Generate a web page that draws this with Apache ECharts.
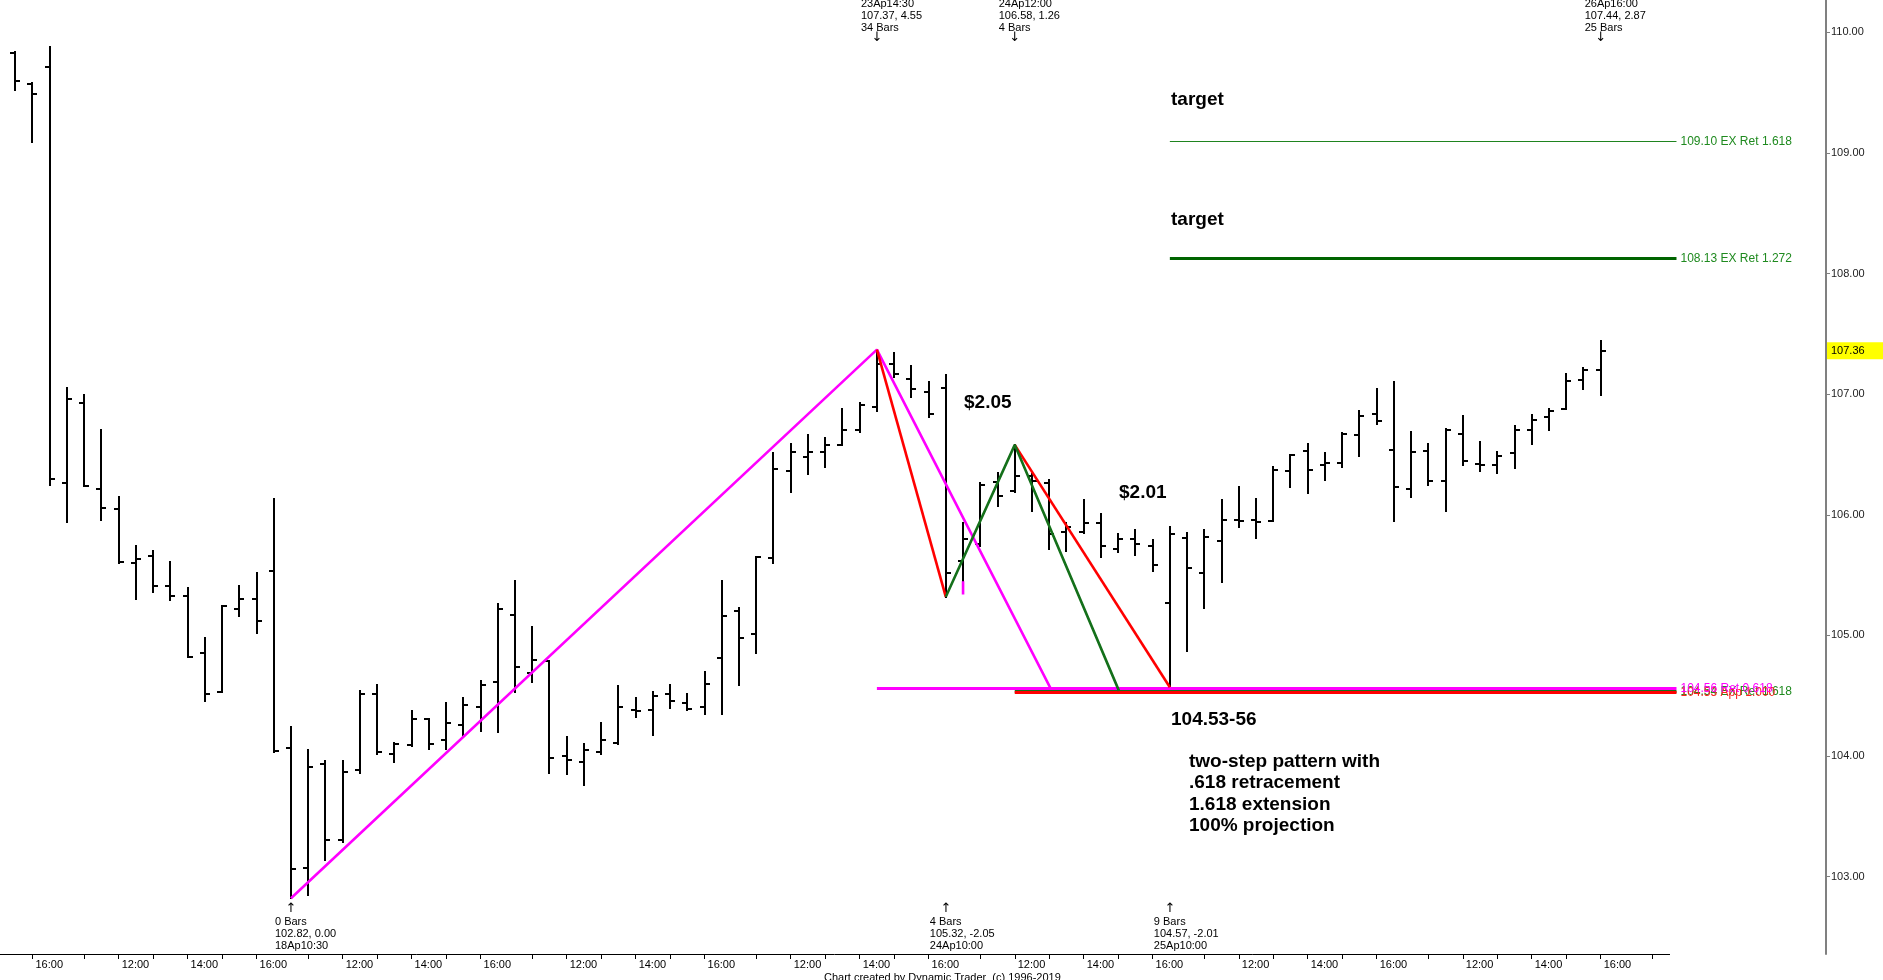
<!DOCTYPE html>
<html>
<head>
<meta charset="utf-8">
<title>Two-step pattern</title>
<script src="https://cdn.jsdelivr.net/npm/echarts@6/dist/echarts.min.js"></script>
<style>
  html, body { margin: 0; padding: 0; background: #fff; }
  #chart { width: 1883px; height: 980px; }
</style>
</head>
<body>
<div id="chart"></div>
<script>
// 30 minute bars, 16Ap15:30 .. 26Ap16:00 (bar index 0..92)
const barOpen = [
  109.83, 109.57, 109.71, 106.26, 106.93, 106.21, 106.05, 105.60, 105.66, 105.41,
  105.33, 104.85, 104.53, 105.22, 105.30, 105.53, 104.07, 103.07, 103.93, 103.30,
  103.88, 104.51, 104.02, 104.09, 104.31, 104.13, 104.26, 104.41, 104.61, 105.17,
  104.69, 104.79, 104.00, 103.95, 104.03, 104.11, 104.38, 104.38, 104.51, 104.44,
  104.41, 104.81, 105.20, 105.01, 105.64, 106.36, 106.48, 106.52, 106.58, 106.70,
  106.89, 107.25, 107.13, 107.02, 107.05, 105.62, 105.76, 106.27, 106.20, 106.32,
  106.26, 105.86, 105.86, 105.93, 105.72, 105.80, 105.74, 105.27, 105.81, 105.52,
  105.78, 105.96, 105.96, 105.95, 106.36, 106.53, 106.41, 106.43, 106.66, 106.84,
  106.54, 106.21, 106.53, 106.28, 106.67, 106.42, 106.41, 106.51, 106.70, 106.81,
  106.88, 107.12, 107.20
];
const barHigh = [
  109.84, 109.58, 109.88, 107.05, 106.99, 106.70, 106.15, 105.74, 105.70, 105.61,
  105.39, 104.98, 105.24, 105.41, 105.52, 106.13, 104.24, 104.05, 103.96, 103.96,
  104.54, 104.59, 104.11, 104.37, 104.31, 104.44, 104.48, 104.62, 105.26, 105.45,
  105.07, 104.79, 104.16, 104.10, 104.27, 104.58, 104.48, 104.53, 104.59, 104.51,
  104.70, 105.45, 105.23, 105.65, 106.51, 106.59, 106.66, 106.64, 106.88, 106.93,
  107.37, 107.34, 107.23, 107.10, 107.16, 105.93, 106.26, 106.35, 106.58, 106.34,
  106.29, 105.93, 106.12, 106.01, 105.84, 105.87, 105.79, 105.90, 105.85, 105.87,
  106.12, 106.23, 106.13, 106.40, 106.50, 106.59, 106.51, 106.68, 106.86, 107.04,
  107.10, 106.69, 106.59, 106.71, 106.82, 106.60, 106.52, 106.74, 106.83, 106.88,
  107.17, 107.22, 107.44
];
const barLow = [
  109.52, 109.09, 106.25, 105.94, 106.24, 105.96, 105.60, 105.30, 105.36, 105.29,
  104.82, 104.46, 104.53, 105.16, 105.02, 104.03, 102.82, 102.85, 103.14, 103.29,
  103.86, 104.02, 103.95, 104.08, 104.06, 104.06, 104.16, 104.21, 104.20, 104.53,
  104.61, 103.86, 103.85, 103.76, 104.02, 104.10, 104.32, 104.17, 104.40, 104.38,
  104.35, 104.35, 104.59, 104.85, 105.60, 106.19, 106.34, 106.40, 106.58, 106.69,
  106.86, 107.14, 106.98, 106.81, 105.32, 105.45, 105.74, 106.07, 106.19, 106.03,
  105.72, 105.70, 105.85, 105.65, 105.69, 105.67, 105.53, 104.57, 104.87, 105.23,
  105.44, 105.90, 105.81, 105.95, 106.23, 106.18, 106.29, 106.40, 106.49, 106.75,
  105.95, 106.15, 106.25, 106.03, 106.41, 106.36, 106.35, 106.39, 106.59, 106.70,
  106.88, 107.04, 106.99
];
const barClose = [
  109.60, 109.49, 106.30, 106.96, 106.24, 106.06, 105.61, 105.63, 105.41, 105.33,
  104.82, 104.51, 105.24, 105.30, 105.12, 104.04, 103.06, 103.91, 103.30, 103.87,
  104.51, 104.03, 104.10, 104.31, 104.10, 104.27, 104.42, 104.59, 105.22, 104.74,
  104.80, 103.98, 103.97, 104.05, 104.13, 104.41, 104.37, 104.50, 104.46, 104.39,
  104.60, 105.16, 104.98, 105.65, 106.38, 106.52, 106.52, 106.58, 106.70, 106.91,
  107.25, 107.17, 107.04, 106.84, 105.52, 105.80, 106.25, 106.16, 106.32, 106.28,
  105.84, 105.90, 105.93, 105.74, 105.80, 105.76, 105.58, 105.84, 105.56, 105.82,
  105.96, 105.95, 105.94, 106.37, 106.50, 106.37, 106.43, 106.67, 106.82, 106.78,
  106.23, 106.52, 106.28, 106.70, 106.45, 106.41, 106.49, 106.70, 106.79, 106.86,
  107.11, 107.20, 107.36
];

// time axis: one blank slot before the first bar, four after the last
const sessionTimes = ['10:00', '10:30', '11:00', '11:30', '12:00', '12:30', '13:00',
  '13:30', '14:00', '14:30', '15:00', '15:30', '16:00'];
const sessionDays = ['17Ap', '18Ap', '22Ap', '23Ap', '24Ap', '25Ap', '26Ap'];
const categories = ['16Ap15:00', '16Ap15:30', '16Ap16:00'];
sessionDays.forEach(d => sessionTimes.forEach(t => categories.push(d + t)));
['10:00', '10:30', '11:00', '11:30'].forEach(t => categories.push('29Ap' + t));
const tickTimes = ['11:00', '12:00', '13:00', '14:00', '15:00', '16:00'];
const labelTimes = ['12:00', '14:00', '16:00'];

// swing pivots
const pivotBars = [16, 50, 54, 58, 67, 92];
const pivotDates = ['18Ap10:30', '23Ap14:30', '24Ap10:00', '24Ap12:00', '25Ap10:00', '26Ap16:00'];
const pivotPrices = ['102.82', '107.37', '105.32', '106.58', '104.57', '107.44'];
const pivotChanges = ['0.00', '4.55', '-2.05', '1.26', '-2.01', '2.87'];
const pivotCounts = [0, 34, 4, 4, 9, 25];
const pivotIsHigh = [false, true, false, true, false, true];

// drawn swings [bar, price]
const pinkSwing = [[16, 102.82], [50, 107.37], [60.08, 104.56]];
const pinkMark = [[55, 105.45], [55, 105.34]];
const redLegOne = [[50, 107.37], [54, 105.32]];
const redLegTwo = [[58, 106.58], [67, 104.57]];
const greenSwing = [[54, 105.32], [58, 106.58], [64.05, 104.54]];

// price levels (drawn in this order, last on top)
const levelPrices = [109.10, 108.13, 104.54, 104.53, 104.56];
const levelStartBars = [67, 67, 58, 58, 50];
const levelLabels = ['109.10 EX Ret 1.618', '108.13 EX Ret 1.272', '104.54 EX Ret 1.618',
  '104.53 App 1.000', '104.56 Ret 0.618'];
const lastPrice = 107.36;

// layout
const levelEnd = 96.4;
const gridRightX = 1669.6;
const priceAxisOffset = 156.4;
const levelStyles = [
  { stroke: '#1f841f', width: 1, text: '#1f8a1f' },
  { stroke: '#006400', width: 3, text: '#1f8a1f' },
  { stroke: '#14701a', width: 3, text: '#1f8a1f' },
  { stroke: '#ff0000', width: 3, text: '#ff2020' },
  { stroke: '#ff00ff', width: 3, text: '#ff00ff' }
];
const small = '11px "Liberation Sans", "DejaVu Sans", sans-serif';
const arrowFont = '13px "DejaVu Sans", sans-serif';
const bold = 'bold 19px "Liberation Sans", Arial, sans-serif';

function swingLine (data, color) {
  return {
    type: 'line', xAxisIndex: 1, yAxisIndex: 0, data: data,
    showSymbol: false, symbol: 'none', silent: true, z: 5,
    lineStyle: { color: color, width: 2.6 }
  };
}

const chart = echarts.init(document.getElementById('chart'));
chart.setOption({
  animation: false,
  backgroundColor: '#fff',
  grid: { left: -1.98, right: 1883 - gridRightX, top: 0, bottom: 26, outerBoundsMode: 'none', containLabel: false },
  xAxis: [{
    type: 'category',
    data: categories,
    boundaryGap: false,
    axisLine: { onZero: false, lineStyle: { color: '#000', width: 1 } },
    axisTick: {
      length: 5,
      lineStyle: { color: '#000' },
      interval: (i, v) => tickTimes.includes(v.slice(-5))
    },
    axisLabel: {
      interval: (i, v) => labelTimes.includes(v.slice(-5)),
      formatter: v => v.slice(-5),
      align: 'left',
      padding: [0, 0, 0, 3],
      margin: 5,
      color: '#000',
      fontSize: 11,
      fontFamily: '"Liberation Sans", Arial, sans-serif'
    },
    splitLine: { show: false }
  }, {
    type: 'value', min: -1, max: 96, show: false,
    axisLine: { onZero: false }
  }],
  yAxis: [{
    type: 'value',
    position: 'right',
    offset: priceAxisOffset,
    min: 102.358,
    max: 110.269,
    splitNumber: 8,
    scale: true,
    axisLine: { show: true, onZero: false, lineStyle: { color: '#808080', width: 2 } },
    axisTick: { show: true, inside: false, length: 4, lineStyle: { color: '#808080' } },
    axisLabel: {
      showMinLabel: false,
      showMaxLabel: false,
      formatter: v => v.toFixed(2),
      margin: 5,
      color: '#222',
      fontSize: 11,
      fontFamily: '"Liberation Sans", Arial, sans-serif'
    },
    splitLine: { show: false }
  }],
  graphic: [
    { type: 'text', x: 1171, y: 100, style: { text: 'target', font: bold, fill: '#000', verticalAlign: 'middle' } },
    { type: 'text', x: 1171, y: 220, style: { text: 'target', font: bold, fill: '#000', verticalAlign: 'middle' } },
    { type: 'text', x: 964, y: 403, style: { text: '$2.05', font: bold, fill: '#000', verticalAlign: 'middle' } },
    { type: 'text', x: 1119, y: 493, style: { text: '$2.01', font: bold, fill: '#000', verticalAlign: 'middle' } },
    { type: 'text', x: 1171, y: 720, style: { text: '104.53-56', font: bold, fill: '#000', verticalAlign: 'middle' } },
    { type: 'text', x: 1189, y: 762, style: { text: 'two-step pattern with', font: bold, fill: '#000', verticalAlign: 'middle' } },
    { type: 'text', x: 1189, y: 783, style: { text: '.618 retracement', font: bold, fill: '#000', verticalAlign: 'middle' } },
    { type: 'text', x: 1189, y: 805, style: { text: '1.618 extension', font: bold, fill: '#000', verticalAlign: 'middle' } },
    { type: 'text', x: 1189, y: 826, style: { text: '100% projection', font: bold, fill: '#000', verticalAlign: 'middle' } },
    { type: 'text', x: 824, y: 972, style: { text: 'Chart created by Dynamic Trader  (c) 1996-2019', font: small, fill: '#000' } }
  ],
  series: [
    { // OHLC bars
      type: 'custom', xAxisIndex: 1, yAxisIndex: 0, z: 2, silent: true,
      data: barOpen.map((o, i) => [i, o, barHigh[i], barLow[i], barClose[i]]),
      renderItem: (params, api) => {
        const i = api.value(0);
        const hi = api.coord([i, api.value(2)]);
        const lo = api.coord([i, api.value(3)]);
        const op = api.coord([i, api.value(1)]);
        const cl = api.coord([i, api.value(4)]);
        const x = Math.round(hi[0]);
        const st = { stroke: '#000', lineWidth: 2 };
        return {
          type: 'group',
          children: [
            { type: 'line', shape: { x1: x, y1: Math.round(hi[1]) - 1, x2: x, y2: Math.round(lo[1]) + 1 }, style: st },
            { type: 'line', shape: { x1: x - 5, y1: Math.round(op[1]), x2: x, y2: Math.round(op[1]) }, style: st },
            { type: 'line', shape: { x1: x, y1: Math.round(cl[1]), x2: x + 5, y2: Math.round(cl[1]) }, style: st }
          ]
        };
      }
    },
    swingLine(pinkSwing, '#ff00ff'),
    swingLine(pinkMark, '#ff00ff'),
    swingLine(redLegOne, '#ff0000'),
    swingLine(redLegTwo, '#ff0000'),
    swingLine(greenSwing, '#14701a'),
    { // price levels with labels
      type: 'custom', xAxisIndex: 1, yAxisIndex: 0, z: 4, silent: true,
      data: levelPrices.map((p, k) => [levelStartBars[k], p, k]),
      renderItem: (params, api) => {
        const k = api.value(2);
        const a = api.coord([api.value(0), api.value(1)]);
        const b = api.coord([levelEnd, api.value(1)]);
        const s = levelStyles[k];
        const y = Math.round(a[1]) + (s.width % 2 ? 0.5 : 0);
        return {
          type: 'group',
          children: [
            { type: 'line', shape: { x1: a[0], y1: y, x2: b[0], y2: y }, style: { stroke: s.stroke, lineWidth: s.width } },
            { type: 'text', x: b[0] + 4, y: y, style: { text: levelLabels[k], fill: s.text, font: '12px "Liberation Sans", Arial, sans-serif', verticalAlign: 'middle' } }
          ]
        };
      }
    },
    { // pivot annotations
      type: 'custom', xAxisIndex: 1, yAxisIndex: 0, z: 6, silent: true,
      data: pivotBars.map((b, k) => [b, k]),
      renderItem: (params, api) => {
        const k = api.value(1);
        const x = api.coord([api.value(0), 105])[0];
        const lines = [pivotDates[k], pivotPrices[k] + ', ' + pivotChanges[k], pivotCounts[k] + ' Bars'];
        const ys = pivotIsHigh[k] ? [3.5, 16, 28] : [946, 934, 922];
        const arrowY = pivotIsHigh[k] ? 38 : 909;
        const kids = lines.map((t, j) => ({
          type: 'text', x: x - 16, y: ys[j],
          style: { text: t, font: small, fill: '#000', verticalAlign: 'middle' }
        }));
        kids.push({
          type: 'text', x: x, y: arrowY,
          style: { text: pivotIsHigh[k] ? '\u2193' : '\u2191', font: arrowFont, fill: '#000', align: 'center', verticalAlign: 'middle' }
        });
        return { type: 'group', children: kids };
      }
    },
    { // last price tag on the price axis
      type: 'custom', xAxisIndex: 1, yAxisIndex: 0, z: 7, silent: true,
      data: [[96, lastPrice]],
      renderItem: (params, api) => {
        const y = api.coord([api.value(0), api.value(1)])[1];
        const ax = gridRightX + priceAxisOffset + 1;
        return {
          type: 'group',
          children: [
            { type: 'rect', shape: { x: ax, y: y - 8.5, width: 1883 - ax, height: 17 }, style: { fill: '#ffff00' } },
            { type: 'text', x: ax + 4, y: y, style: { text: api.value(1).toFixed(2), font: small, fill: '#000', verticalAlign: 'middle' } }
          ]
        };
      }
    }
  ]
});
</script>
</body>
</html>
